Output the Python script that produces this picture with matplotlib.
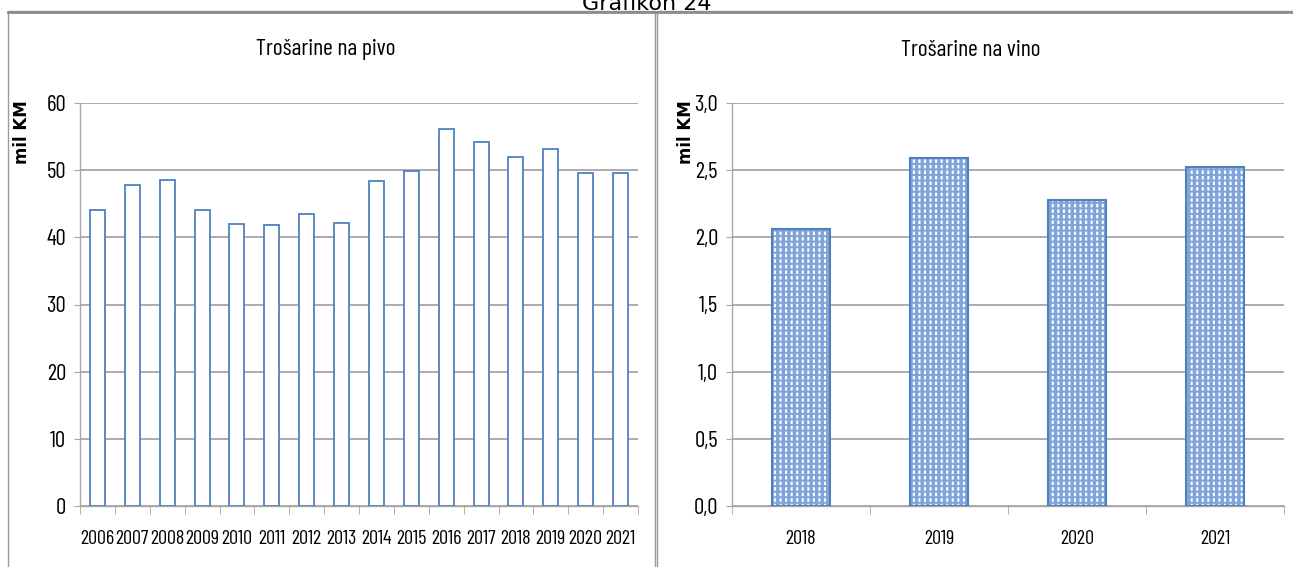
import matplotlib.pyplot as plt
from matplotlib import font_manager
from matplotlib.patches import Rectangle
from matplotlib.lines import Line2D

# ---------------------------------------------------------
# Data
# ---------------------------------------------------------
beer_years = ["2006", "2007", "2008", "2009", "2010", "2011", "2012", "2013",
              "2014", "2015", "2016", "2017", "2018", "2019", "2020", "2021"]
beer_values = [44.0, 47.8, 48.6, 44.0, 42.0, 41.8, 43.5, 42.2,
               48.4, 49.9, 56.1, 54.2, 51.9, 53.2, 49.6, 49.6]

wine_years = ["2018", "2019", "2020", "2021"]
wine_values = [2.06, 2.59, 2.28, 2.52]

beer_ticks = [0, 10, 20, 30, 40, 50, 60]
wine_ticks = [0.0, 0.5, 1.0, 1.5, 2.0, 2.5, 3.0]

BLUE = "#4F81BD"
LIGHT = "#80A3D8"
GRID = "#A6A6A6"

# narrow font similar to the squeezed Calibri of the original
installed = {f.name for f in font_manager.fontManager.ttflist}
NARROW = "DejaVu Sans"
for name in ["Barlow Condensed", "Archivo Narrow", "Asap Condensed",
             "Roboto Condensed", "Liberation Sans Narrow"]:
    if name in installed:
        NARROW = name
        break

plt.rcParams["font.family"] = [NARROW, "DejaVu Sans"]
plt.rcParams["hatch.linewidth"] = 1.5

fig = plt.figure(figsize=(12.93, 5.67), dpi=100)


def fx(x):
    return x / 1293


def fy(y):
    return 1 - y / 567


# ---------------------------------------------------------
# Panel frames
# ---------------------------------------------------------
fig.patches.append(Rectangle((fx(8), fy(600)), 647 / 1293, 589 / 567,
                             transform=fig.transFigure, fill=False,
                             edgecolor="#9A9A9A", linewidth=1.0))
fig.patches.append(Rectangle((fx(657), fy(600)), 640 / 1293, 589 / 567,
                             transform=fig.transFigure, fill=False,
                             edgecolor="#9A9A9A", linewidth=1.0))
fig.lines.append(Line2D([fx(8), 1], [fy(11.5), fy(11.5)],
                        transform=fig.transFigure, color="#8C8C8C",
                        linewidth=2.0))

fig.text(0.5, fy(9.5), "Grafikon 24", ha="center", va="baseline",
         fontsize=16, family="DejaVu Sans")


def style_axes(ax, ticks, labels, n):
    ax.set_ylim(ticks[0], ticks[-1])
    ax.set_yticks(ticks)
    ax.set_yticklabels(labels)
    ax.set_xlim(-0.5, n - 0.5)
    ax.yaxis.grid(True, color=GRID, linewidth=1.3)
    ax.set_axisbelow(True)
    for s in ["top", "right"]:
        ax.spines[s].set_visible(False)
    for s in ["left", "bottom"]:
        ax.spines[s].set_color(GRID)
        ax.spines[s].set_linewidth(1.0)
    ax.tick_params(axis="y", length=4, color=GRID, labelsize=16.5, pad=6)
    ax.tick_params(axis="x", which="major", length=0, labelsize=14.5, pad=17)
    ax.set_xticks([i - 0.5 for i in range(n + 1)], minor=True)
    ax.tick_params(axis="x", which="minor", length=6, color=GRID)


# ---------------------------------------------------------
# Beer
# ---------------------------------------------------------
ax1 = fig.add_axes([fx(80), fy(506), 558 / 1293, 403 / 567])
x1 = range(len(beer_years))
ax1.bar(x1, beer_values, width=0.43, facecolor="white",
        edgecolor=BLUE, linewidth=1.3, zorder=3)
ax1.set_xticks(list(x1))
ax1.set_xticklabels(beer_years)
style_axes(ax1, beer_ticks, [str(t) for t in beer_ticks], len(beer_years))

# ---------------------------------------------------------
# Wine
# ---------------------------------------------------------
ax2 = fig.add_axes([fx(732), fy(506), 552 / 1293, 403 / 567])
x2 = range(len(wine_years))
ax2.bar(x2, wine_values, width=0.42, facecolor=LIGHT, edgecolor="white",
        hatch="|||", linewidth=0, zorder=3)
ax2.bar(x2, wine_values, width=0.42, fill=False, edgecolor=LIGHT,
        hatch="---", linewidth=0, zorder=4)
ax2.bar(x2, wine_values, width=0.42, fill=False, edgecolor=BLUE,
        linewidth=1.5, zorder=5)
ax2.set_xticks(list(x2))
ax2.set_xticklabels(wine_years)
style_axes(ax2, wine_ticks, [f"{t:.1f}".replace(".", ",") for t in wine_ticks],
           len(wine_years))

# titles, centred on each chart frame
fig.text(fx(326), fy(50), "Trošarine na pivo", ha="center", va="center",
         fontsize=17)
fig.text(fx(971), fy(50), "Trošarine na vino", ha="center", va="center",
         fontsize=17)

# y labels near the top of each axis
fig.text(fx(22), fy(132), "mil KM", rotation=90, ha="center",
         va="center", fontsize=12, fontweight="bold", family="DejaVu Sans")
fig.text(fx(686), fy(132), "mil KM", rotation=90, ha="center",
         va="center", fontsize=12, fontweight="bold", family="DejaVu Sans")

plt.savefig("out.png", dpi=100)
plt.close()
